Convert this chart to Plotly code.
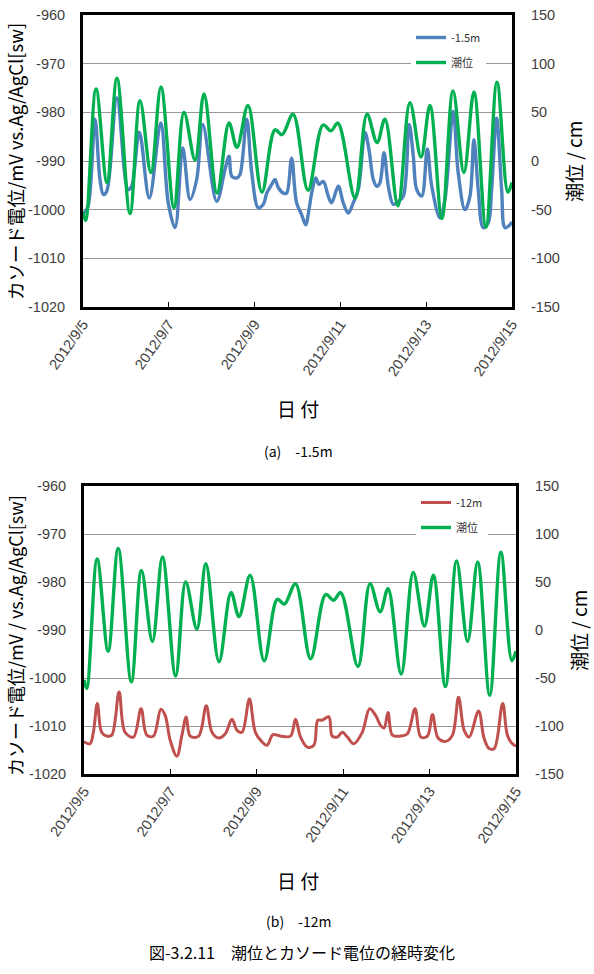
import pandas as pd
import plotly.graph_objects as go

START = "2012-09-05"
END = "2012-09-15"

# x tick positions / labels
tick_dates = ["2012-09-05", "2012-09-07", "2012-09-09", "2012-09-11", "2012-09-13", "2012-09-15"]
tick_labels = ["2012/9/5", "2012/9/7", "2012/9/9", "2012/9/11", "2012/9/13", "2012/9/15"]

# left axis (mV) and right axis (cm) ticks
mv_ticks = [-1020, -1010, -1000, -990, -980, -970, -960]
mv_labels = ["-1020", "-1010", "-1000", "-990", "-980", "-970", "-960"]
cm_ticks = [-150, -100, -50, 0, 50, 100, 150]
cm_labels = ["-150", "-100", "-50", "0", "50", "100", "150"]

# tide level (cm): hours from 2012/9/5 00:00
tide_hours = [0, 1.5, 7.3, 13.4, 19.0, 26.3, 31.9, 38.0, 43.6, 50.9, 56.5, 62.7, 67.7, 75.0,
              81.7, 86.1, 92.3, 100.1, 107.4, 111.3, 117.5, 125.9, 134.3, 138.7, 142.6, 152.2,
              158.9, 164.5, 168.9, 176.2, 182.9, 189.1, 194.1, 200.8, 207.0, 213.1, 218.7,
              225.4, 231.6, 237.7, 240]
tide_cm = [-52, -61, 74, -22, 85, -54, 62, -12, 76, -48, 50, 1, 69, -33,
           39, 14, 57, -32, 32, 27, 48, -30, 37, 31, 39, -38,
           48, 19, 43, -46, 60, 4, 57, -59, 72, -12, 71,
           -68, 81, -32, -22]

# cathode potential at -1.5 m (mV)
p15_hours = [0, 2.8, 6.7, 9.5, 11.4, 13.3, 19.0, 25.2, 27.2, 31.5, 37.1, 43.5, 47.7, 51.5,
             55.8, 59.9, 63.6, 67.0, 74.8, 79.4, 81.7, 83.2, 86.0, 87.8, 91.6, 94.4, 98.1,
             100.9, 102.8, 105.6, 107.4, 109.3, 112.1, 113.9, 116.7, 119.5, 122.3, 124.6,
             126.4, 128.3, 130.2, 132.0, 134.4, 137.2, 139.1, 142.8, 145.6, 148.4, 151.2,
             154.0, 157.8, 160.0, 162.4, 164.3, 166.1, 168.4, 170.8, 173.6, 176.4, 179.2,
             182.5, 184.8, 186.7, 189.5, 192.6, 195.1, 199.7, 202.5, 207.1, 209.9, 213.7,
             216.5, 218.7, 221.1, 223.9, 226.7, 228.6, 231.4, 234.2, 236.1, 238.9, 240]
p15_mv = [-1001, -999.3, -981.4, -993.8, -996.9, -996.2, -977, -995.9, -995.2, -984.1, -997.6,
          -982.2, -998.6, -1003.7, -987.3, -997.9, -993.8, -982.5, -998.3, -991.8, -989,
          -993.1, -993.5, -992.8, -981.4, -992.4, -999.6, -998.9, -996.6, -994.8, -993.8,
          -995.5, -996.6, -996.6, -989.4, -998.6, -1001, -1003.1, -1000, -995.9, -993.5,
          -994.8, -994.2, -997.2, -998.6, -995.2, -998.6, -1000.7, -998.6, -995.9, -984.2,
          -987.7, -993.8, -995.2, -994.5, -988.3, -995.2, -998.9, -998.3, -997.2, -982.5,
          -989, -995.9, -997.2, -987.5, -995.2, -1001.7, -997.9, -979.8, -992.4, -1000,
          -997.2, -985.6, -995.9, -1003.7, -1002.7, -995.9, -981.2, -995.9, -1003.7, -1003.1,
          -1002.5]

# cathode potential at -12 m (mV)
p12_hours = [0, 3.3, 5.2, 7.4, 9.8, 12.6, 15.4, 19.5, 22.8, 27.5, 31.7, 34.9, 38.6, 42.7, 45.1,
             47.9, 51.6, 54.4, 56.8, 59.0, 63.7, 67.9, 71.1, 74.8, 78.5, 82.2, 85.0, 87.8, 91.9,
             95.2, 98.9, 101.7, 105.0, 109.1, 114.7, 117.5, 120.3, 124.0, 127.7, 129.9, 132.3,
             136.0, 137.9, 140.7, 143.5, 146.3, 149.9, 154.6, 158.7, 162.0, 164.8, 166.7, 168.9,
             171.3, 175.9, 179.7, 183.9, 187.1, 190.8, 193.6, 196.7, 201.0, 204.7, 208.1, 211.2,
             214.0, 219.2, 222.3, 225.1, 227.9, 232.6, 235.4, 239.0, 240]
p12_mv = [-1013.3, -1013.7, -1011.3, -1005.3, -1011.3, -1012.1, -1011.9, -1002.9, -1011.3,
          -1012.3, -1006.4, -1011.9, -1012.1, -1006.5, -1007.8, -1013, -1016.3, -1011.9,
          -1008.1, -1012.1, -1012.1, -1005.8, -1011.3, -1012.5, -1011.6, -1008.6, -1010.9,
          -1011.3, -1004.4, -1011.3, -1013.3, -1014, -1011.8, -1012.1, -1012.1, -1008.6,
          -1012.3, -1014.4, -1014, -1008.8, -1008.8, -1008.1, -1012.1, -1012.3, -1011.3,
          -1012.3, -1013.7, -1011.3, -1006.4, -1007.8, -1009.9, -1010.4, -1007.2, -1011.9,
          -1012.1, -1011.6, -1006.4, -1012.3, -1012.1, -1007.6, -1012.5, -1013.2, -1011.9,
          -1004, -1010.9, -1012.3, -1006.9, -1012.6, -1014.7, -1014.7, -1005.3, -1012.1,
          -1014, -1014]


def to_time(hours):
    return pd.Timestamp(START) + pd.to_timedelta(hours, unit="h")


W, H = 594, 974
GREEN = "#00B050"
BLUE = "#4F81BD"
RED = "#C0504D"
TICKCOL = "#404040"
GRID = "#999999"
JP = "Noto Sans CJK JP"
NUM = "Liberation Sans"

fig = go.Figure()
fig.add_trace(go.Scatter(x=to_time(p15_hours), y=p15_mv, name="-1.5m", mode="lines",
                         line=dict(color=BLUE, width=3.4, shape="spline", smoothing=1.0),
                         xaxis="x", yaxis="y", legend="legend", legendgroup="a1"))
fig.add_trace(go.Scatter(x=to_time(tide_hours), y=tide_cm, name="潮位", mode="lines",
                         line=dict(color=GREEN, width=3.4, shape="spline", smoothing=1.0),
                         xaxis="x", yaxis="y2", legend="legend", legendgroup="a2"))
fig.add_trace(go.Scatter(x=to_time(p12_hours), y=p12_mv, name="-12m", mode="lines",
                         line=dict(color=RED, width=3.0, shape="spline", smoothing=1.0),
                         xaxis="x2", yaxis="y3", legend="legend2", legendgroup="b1"))
fig.add_trace(go.Scatter(x=to_time(tide_hours), y=tide_cm, name="潮位", mode="lines",
                         line=dict(color=GREEN, width=3.4, shape="spline", smoothing=1.0),
                         xaxis="x2", yaxis="y4", legend="legend2", legendgroup="b2"))


def px_x(v):
    return v / W


def px_y(v):
    return 1 - v / H


xcommon = dict(type="date", range=[START, END], tickvals=tick_dates, ticktext=tick_labels,
               tickangle=-55, ticks="inside", ticklen=5, tickcolor="black", tickwidth=1,
               showgrid=False, showline=True, linecolor="black", linewidth=3, mirror=True,
               tickfont=dict(family=NUM, size=14.5, color=TICKCOL), zeroline=False,
               automargin=False)
yleft = dict(range=[-1020, -960], tickvals=mv_ticks, ticktext=mv_labels, showgrid=True,
             gridcolor=GRID, gridwidth=1, showline=True, linecolor="black", linewidth=3,
             ticks="", ticklabelstandoff=12, zeroline=False, automargin=False,
             tickfont=dict(family=NUM, size=14.5, color=TICKCOL))
yright = dict(range=[-150, 150], tickvals=cm_ticks, ticktext=cm_labels, showgrid=False,
              side="right", showline=True, linecolor="black", linewidth=3, ticks="",
              ticklabelstandoff=13, zeroline=False, automargin=False,
              tickfont=dict(family=NUM, size=14.5, color=TICKCOL))

fig.update_layout(
    width=W, height=H, margin=dict(l=0, r=0, t=0, b=0, autoexpand=False),
    paper_bgcolor="white", plot_bgcolor="white",
    xaxis=dict(xcommon, domain=[px_x(83), px_x(512)], anchor="y"),
    yaxis=dict(yleft, domain=[px_y(307), px_y(15)], anchor="x"),
    yaxis2=dict(yright, overlaying="y", anchor="x"),
    xaxis2=dict(xcommon, domain=[px_x(84), px_x(516)], anchor="y3"),
    yaxis3=dict(yleft, domain=[px_y(774), px_y(486)], anchor="x2"),
    yaxis4=dict(yright, overlaying="y3", anchor="x2"),
    legend=dict(x=px_x(411), y=px_y(23), xanchor="left", yanchor="top", bgcolor="white",
                font=dict(family=JP, size=11, color="#333"), tracegroupgap=6,
                itemwidth=30),
    legend2=dict(x=px_x(416), y=px_y(488), xanchor="left", yanchor="top", bgcolor="white",
                 font=dict(family=JP, size=11, color="#333"), tracegroupgap=6,
                 itemwidth=30),
)

ann = []
ann.append(dict(text="カソード電位/mV vs.Ag/AgCl[sw]", x=px_x(15), y=px_y(162), textangle=-90,
                font=dict(family=JP, size=18.5, color="black")))
ann.append(dict(text="カソード電位/mV / vs.Ag/AgCl[sw]", x=px_x(15), y=px_y(636), textangle=-90,
                font=dict(family=JP, size=18, color="black")))
ann.append(dict(text="潮位 / cm", x=px_x(574), y=px_y(162), textangle=-90,
                font=dict(family=JP, size=19, color="black")))
ann.append(dict(text="潮位 / cm", x=px_x(578), y=px_y(631), textangle=-90,
                font=dict(family=JP, size=19, color="black")))
ann.append(dict(text="日 付", x=px_x(298), y=px_y(408),
                font=dict(family=JP, size=19, color="black")))
ann.append(dict(text="日 付", x=px_x(298), y=px_y(880),
                font=dict(family=JP, size=19, color="black")))
ann.append(dict(text="(a)　-1.5m", x=px_x(298), y=px_y(451),
                font=dict(family=JP, size=14, color="black")))
ann.append(dict(text="(b)　-12m", x=px_x(298), y=px_y(921),
                font=dict(family=JP, size=14, color="black")))
ann.append(dict(text="図-3.2.11　潮位とカソード電位の経時変化", x=px_x(302), y=px_y(952),
                font=dict(family=JP, size=16, color="black")))
for a in ann:
    a.update(xref="paper", yref="paper", showarrow=False, xanchor="center", yanchor="middle")
fig.update_layout(annotations=ann)

fig.write_html("out.html")
